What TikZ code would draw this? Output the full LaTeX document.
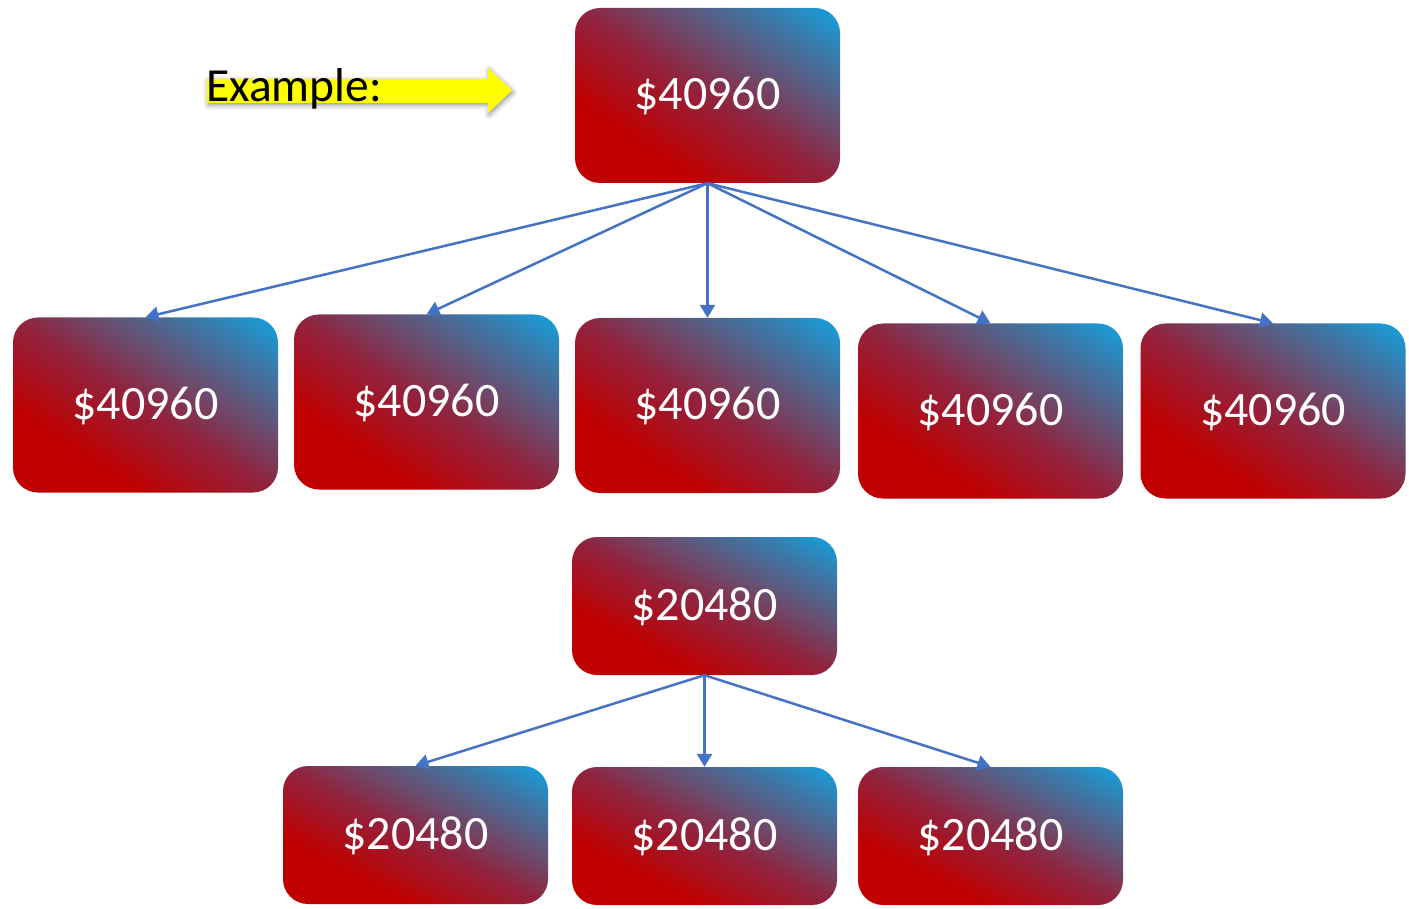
\documentclass[tikz,border=0pt]{standalone}
\usepackage{fontspec}
\setmainfont{Carlito}
\usetikzlibrary{arrows.meta,shadows.blur}
\definecolor{bred}{RGB}{192,0,0}
\definecolor{bmid}{RGB}{145,35,62}
\definecolor{bpur}{RGB}{105,78,112}
\definecolor{bblu}{RGB}{62,118,165}
\definecolor{bcyan}{RGB}{18,163,226}
\definecolor{linkblue}{RGB}{68,114,196}
\definecolor{arrowyellow}{RGB}{255,255,0}
\pgfdeclarehorizontalshading{boxshade}{100bp}{color(0bp)=(bred); color(37bp)=(bred); color(50bp)=(bmid); color(58bp)=(bpur); color(66.5bp)=(bblu); color(75bp)=(bcyan); color(100bp)=(bcyan)}
% gradient background of a box: centre x, centre y, half height (in px, y downwards)
\newcommand{\gradbg}[3]{%
  \begin{scope}
    \clip[rounded corners=25pt] ({#1-132.5},{#2-#3}) rectangle ({#1+132.5},{#2+#3});
    \begin{scope}[transform canvas={shift={(#1pt,-#2pt)}, xscale=132.5, yscale=#3, rotate=45}]
      \shade[shading=boxshade, x=1pt, y=1pt] (-1.4143,-1.4143) rectangle (1.4143,1.4143);
    \end{scope}
  \end{scope}}
\tikzset{
  box/.style={rounded corners=25pt, minimum width=265pt, minimum height=175pt, inner sep=0pt,
    text=white, font=\fontsize{48}{56}\selectfont, text height=29pt, text depth=0pt},
  boxs/.style={box, minimum height=138pt},
  conn/.style={draw=linkblue, line width=2.5pt, -{Triangle[length=13pt,width=15pt]}},
  labeltext/.style={anchor=base west, inner sep=0pt, font=\fontsize{47.5}{56}\selectfont},
}
\begin{document}
\begin{tikzpicture}[x=1pt,y=-1pt]
\useasboundingbox (0,0) rectangle (1409,909);
% example arrow
\fill[arrowyellow, blur shadow={shadow xshift=1pt, shadow yshift=-2pt, shadow blur radius=5pt, shadow opacity=45}]
  (207,79) -- (488,79) -- (488,68) -- (512,90.5) -- (488,113) -- (488,103) -- (207,103) -- cycle;
\node[labeltext] (ex) at (206,102) {Example:};
% box backgrounds
\gradbg{707.5}{95.5}{87.5}
\gradbg{145.5}{405}{87.5}
\gradbg{426.5}{402}{87.5}
\gradbg{707.5}{405.5}{87.5}
\gradbg{990.5}{411}{87.5}
\gradbg{1273}{411}{87.5}
\gradbg{704.5}{606}{69}
\gradbg{415.5}{835}{69}
\gradbg{704.5}{836}{69}
\gradbg{990.5}{836}{69}
% boxes
\node[box] (top) at (707.5,95.5) {\$40960};
\node[box] (b1) at (145.5,405) {\$40960};
\node[box] (b2) at (426.5,402) {\$40960};
\node[box] (b3) at (707.5,405.5) {\$40960};
\node[box] (b4) at (990.5,411) {\$40960};
\node[box] (b5) at (1273,411) {\$40960};
\node[boxs] (r3) at (704.5,606) {\$20480};
\node[boxs] (c1) at (415.5,835) {\$20480};
\node[boxs] (c2) at (704.5,836) {\$20480};
\node[boxs] (c3) at (990.5,836) {\$20480};
% connectors
\foreach \t in {b1,b2,b3,b4,b5}
  \draw[conn] (top.south) -- (\t.north);
\foreach \t in {c1,c2,c3}
  \draw[conn] (r3.south) -- (\t.north);
\end{tikzpicture}
\end{document}
